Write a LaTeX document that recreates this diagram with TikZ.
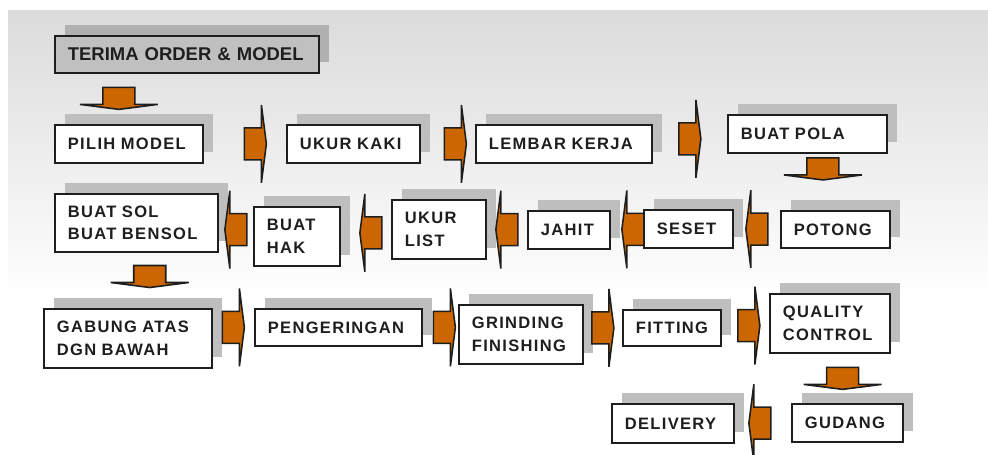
\documentclass[tikz,border=0pt]{standalone}
\usepackage{fontspec}
\newfontfamily\boxfont[LetterSpace=8]{Liberation Sans}
\newfontfamily\headfont{Liberation Sans}
\usetikzlibrary{calc,shadows}
\definecolor{arroworange}{HTML}{CC6600}
\definecolor{shadowgray}{HTML}{BEBEBE}
\definecolor{headgray}{HTML}{C0C0C0}
\definecolor{headshadow}{HTML}{B0B0B0}
\definecolor{inkblack}{HTML}{1E1E1E}

\tikzset{
  boxsize/.code 2 args={%
    \pgfmathsetlengthmacro\boxw{(#1-26)*0.02cm}%
    \pgfmathsetlengthmacro\boxh{#2*0.02cm}%
    \edef\boxtmp{\noexpand\tikzset{text width=\boxw, minimum height=\boxh}}\boxtmp},
  blockarrow/.pic={
    \filldraw[fill=arroworange, draw=inkblack, line width=0.9pt, line join=miter]
      (-11,-16) -- (6,-16) -- (6,-39) -- (11,0) -- (6,39) -- (6,16) -- (-11,16) -- cycle;
  }
}

\begin{document}
\begin{tikzpicture}[
        x=0.02cm, y=-0.02cm,
        stepbox/.style={draw=inkblack, line width=1pt, fill=white, anchor=north west,
            align=left, inner xsep=0.26cm, inner ysep=0pt, text=inkblack,
            font=\boxfont\bfseries\fontsize{9.4}{13}\selectfont,
            drop shadow={shadow xshift=0.2cm, shadow yshift=0.22cm, fill=shadowgray, opacity=1, draw=none}},
        headbox/.style={stepbox, fill=headgray,
            font=\headfont\bfseries\fontsize{10.5}{13}\selectfont,
            drop shadow={shadow xshift=0.2cm, shadow yshift=0.22cm, fill=headshadow, opacity=1, draw=none}},
        leftarrow/.style={rotate=180},
        downarrow/.style={rotate=-90}
    ]
        \useasboundingbox (0,0) rectangle (988,454);
        \shade[top color=black!14, bottom color=white] (8,10) rectangle (988,300);

        \node[headbox, boxsize={264}{37}] (terima) at (54,35) {TERIMA ORDER \& MODEL};

        \node[stepbox, boxsize={148}{38}] (pilih) at (54,124) {PILIH MODEL};
        \node[stepbox, boxsize={133}{38}] (ukurkaki) at (286,124) {UKUR KAKI};
        \node[stepbox, boxsize={176}{38}] (lembar) at (475,124) {LEMBAR KERJA};
        \node[stepbox, boxsize={159}{38}] (pola) at (727,114) {BUAT POLA};

        \node[stepbox, boxsize={109}{37}] (potong) at (780,210) {POTONG};
        \node[stepbox, boxsize={89}{38}] (seset) at (643,209) {SESET};
        \node[stepbox, boxsize={82}{38}] (jahit) at (527,210) {JAHIT};
        \node[stepbox, boxsize={94}{59}] (ukurlist) at (391,199) {UKUR\\LIST};
        \node[stepbox, boxsize={86}{59}] (hak) at (253,206) {BUAT\\HAK};
        \node[stepbox, boxsize={163}{58}] (sol) at (54,193) {BUAT SOL\\BUAT BENSOL};

        \node[stepbox, boxsize={168}{59}] (gabung) at (43,308) {GABUNG ATAS\\DGN BAWAH};
        \node[stepbox, boxsize={167}{37}] (pengeringan) at (254,308) {PENGERINGAN};
        \node[stepbox, boxsize={124}{59}] (grinding) at (458,304) {GRINDING\\FINISHING};
        \node[stepbox, boxsize={98}{36}] (fitting) at (622,309) {FITTING};
        \node[stepbox, boxsize={120}{59}] (qc) at (769,293) {QUALITY\\CONTROL};

        \node[stepbox, boxsize={111}{38}] (gudang) at (791,403) {GUDANG};
        \node[stepbox, boxsize={122}{39}] (delivery) at (611,403) {DELIVERY};

        \pic[xshift=-0.2cm, downarrow] at ($(terima.south -| pilih.north)!0.49!(pilih.north)$) {blockarrow};
        \pic[xshift=0.21cm] at ($(pilih.east)!0.5!(ukurkaki.west)$) {blockarrow};
        \pic[xshift=0.15cm] at ($(ukurkaki.east)!0.5!(lembar.west)$) {blockarrow};
        \pic at ($(lembar.east)!0.5!(pola.west)$) {blockarrow};
        \pic[xshift=0.16cm, downarrow] at ($(pola.south)!0.27!(potong.north)$) {blockarrow};

        \pic[leftarrow] at ($(potong.west)!0.5!(seset.east)$) {blockarrow};
        \pic[xshift=0.12cm, leftarrow] at ($(seset.west)!0.5!(jahit.east)$) {blockarrow};
        \pic[leftarrow] at ($(jahit.west)!0.5!(ukurlist.east)$) {blockarrow};
        \pic[xshift=0.1cm, leftarrow] at ($(ukurlist.west)!0.5!(hak.east)$) {blockarrow};
        \pic[leftarrow] at ($(hak.west)!0.5!(sol.east)$) {blockarrow};
        \pic[xshift=0.34cm, downarrow] at ($(sol.south)!0.43!(gabung.north)$) {blockarrow};

        \pic at ($(gabung.east |- pengeringan.west)!0.5!(pengeringan.west)$) {blockarrow};
        \pic[xshift=0.08cm] at ($(pengeringan.east)!0.5!(grinding.west |- pengeringan.east)$) {blockarrow};
        \pic at ($(grinding.east |- fitting.west)!0.5!(fitting.west)$) {blockarrow};
        \pic[xshift=0.07cm] at ($(fitting.east)!0.5!(qc.west)$) {blockarrow};
        \pic[xshift=0.08cm, downarrow] at ($(qc.south)!0.5!(gudang.north)$) {blockarrow};

        \pic[xshift=-0.06cm, leftarrow] at ($(gudang.west)!0.5!(delivery.east)$) {blockarrow};
    \end{tikzpicture}
\end{document}
